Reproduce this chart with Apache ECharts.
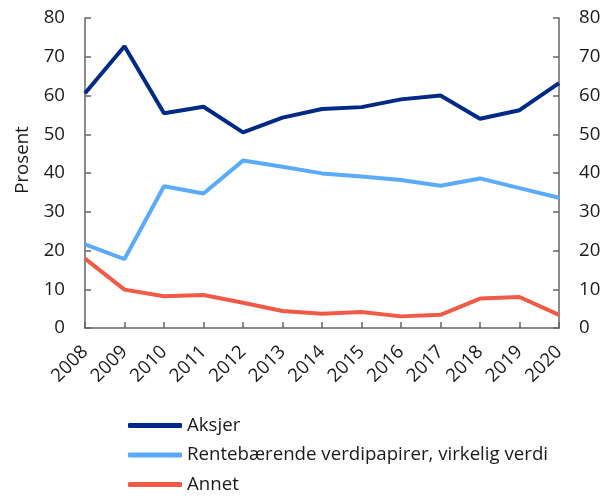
<!DOCTYPE html>
<html>
<head>
<meta charset="utf-8">
<script src="https://cdn.jsdelivr.net/npm/echarts@6/dist/echarts.min.js"></script>
<style>
  html, body { margin: 0; padding: 0; background: #fff; }
  #chart { width: 614px; height: 496px; }
</style>
</head>
<body>
<div id="chart"></div>
<script>
// år
const years = ['2008', '2009', '2010', '2011', '2012', '2013', '2014', '2015', '2016', '2017', '2018', '2019', '2020'];
// prosent av porteføljen
const aksjer = [60.6, 72.7, 55.4, 57.1, 50.5, 54.3, 56.5, 57.0, 59.0, 60.0, 54.0, 56.2, 63.2];
const rentebaerende = [21.6, 17.8, 36.6, 34.7, 43.2, 41.6, 39.9, 39.1, 38.2, 36.7, 38.6, 36.1, 33.6];
const annet = [17.9, 9.9, 8.2, 8.5, 6.5, 4.4, 3.7, 4.1, 3.0, 3.4, 7.6, 8.0, 3.4];
const yTicks = [0, 10, 20, 30, 40, 50, 60, 70, 80];

const font = 'Open Sans';
const fontSize = 18.67;
const textColor = '#1a1a1a';
const axisColor = '#666';

let myChart = echarts.init(document.getElementById('chart'));

function yAxis(position, name) {
  return {
    type: 'value',
    position: position,
    min: yTicks[0],
    max: yTicks[yTicks.length - 1],
    interval: 10,
    name: name,
    nameLocation: 'middle',
    nameGap: 53,
    nameTextStyle: { color: textColor, fontSize: fontSize, fontFamily: font, padding: [0, 0, 0, 26] },
    axisLine: { show: true, lineStyle: { color: axisColor, width: 1.5 } },
    axisTick: { show: true, inside: true, length: 6, lineStyle: { color: axisColor, width: 1.5 } },
    axisLabel: { color: textColor, fontSize: fontSize, fontFamily: font, margin: 20 },
    splitLine: { show: false }
  };
}

function lineSeries(name, data, color) {
  return {
    name: name,
    type: 'line',
    data: data,
    symbol: 'none',
    lineStyle: { color: color, width: 4 },
    itemStyle: { color: color }
  };
}

let option = {
  animation: false,
  grid: { left: 85, right: 55, top: 18, bottom: 168 },
  xAxis: {
    type: 'category',
    data: years,
    boundaryGap: false,
    axisLine: { lineStyle: { color: axisColor, width: 1.5 } },
    axisTick: { show: true, inside: true, length: 6, alignWithLabel: true, lineStyle: { color: axisColor, width: 1.5 } },
    axisLabel: { color: textColor, fontSize: fontSize, fontFamily: font, rotate: 45, margin: 21, interval: 0 }
  },
  yAxis: [yAxis('left', 'Prosent'), yAxis('right', '')],
  legend: {
    orient: 'vertical',
    left: 128,
    top: 415,
    padding: 0,
    icon: 'roundRect',
    itemWidth: 54,
    itemHeight: 5,
    itemGap: 8.5,
    textStyle: { color: textColor, fontSize: fontSize, fontFamily: font, lineHeight: 21 },
    data: ['Aksjer', 'Rentebærende verdipapirer, virkelig verdi', 'Annet']
  },
  series: [
    lineSeries('Aksjer', aksjer, '#002a85'),
    lineSeries('Rentebærende verdipapirer, virkelig verdi', rentebaerende, '#5aabfb'),
    lineSeries('Annet', annet, '#f25a48')
  ]
};

myChart.setOption(option, true);
</script>
</body>
</html>
